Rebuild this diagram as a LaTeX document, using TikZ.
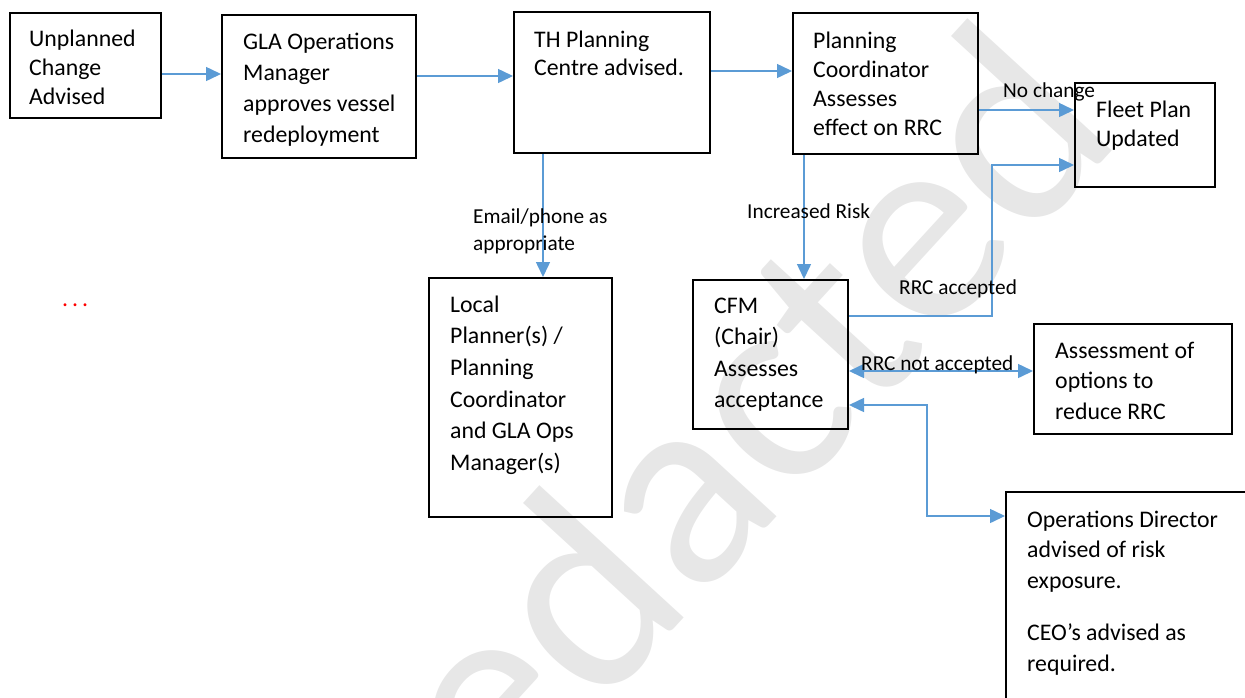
\documentclass[tikz,border=0pt]{standalone}
\usepackage{fontspec}
\setmainfont{Carlito}
\usetikzlibrary{arrows.meta}
\definecolor{flowblue}{RGB}{91,155,213}
\definecolor{stamp}{RGB}{231,231,231}
% body text: 23.8pt with a given line pitch
\newcommand{\bodyfont}[1]{\fontsize{23.8}{#1}\selectfont}
\newcommand{\lblfont}{\fontsize{21.3}{27}\selectfont}
% invisible strut fixing the top of a text block above its first baseline
\newcommand{\topstrut}[1]{\rule{0pt}{#1}}

\begin{document}
\begin{tikzpicture}[x=1pt,y=-1pt,
  box/.style={draw=black, line width=2pt, rectangle, inner sep=0pt},
  txt/.style={anchor=north west, inner sep=0pt, align=left},
  lbl/.style={anchor=base west, inner sep=0pt, font=\lblfont},
  tip/.tip={Triangle[length=15pt,width=14pt]},
  arr/.style={draw=flowblue, line width=1.5pt, -tip},
  darr/.style={draw=flowblue, line width=1.5pt, tip-tip}]

\useasboundingbox (0,0) rectangle (1245,697);
\clip (0,0) rectangle (1245,697);

% background stamp
\node[anchor=base east, rotate=47.5, inner sep=0pt, text=stamp,
      font=\fontsize{282}{282}\selectfont] (stampword) at (1126,136) {Redacted};

% process boxes
\node[box, minimum width=151pt, minimum height=105pt] (b1) at (85.5,65.5) {};
\node[box, minimum width=194pt, minimum height=143pt] (b2) at (319,86.5) {};
\node[box, minimum width=196pt, minimum height=141pt] (b3) at (612,82.5) {};
\node[box, minimum width=185pt, minimum height=141pt] (b4) at (885.5,83.5) {};
\node[box, minimum width=140pt, minimum height=104pt] (b5) at (1145,135) {};
\node[box, minimum width=183pt, minimum height=239pt] (b6) at (520.5,397.5) {};
\node[box, minimum width=155pt, minimum height=149pt] (b7) at (770.5,354.5) {};
\node[box, minimum width=198pt, minimum height=110pt] (b8) at (1133,379) {};
\node[box, minimum width=254pt, minimum height=228pt] (b9) at (1133,606) {};

% box texts
\node[txt, font=\bodyfont{29}] (t1) at (29,26) {\topstrut{20pt}Unplanned\\Change\\Advised};
\node[txt, font=\bodyfont{31}] (t2) at (243,29) {\topstrut{20pt}GLA Operations\\Manager\\approves vessel\\redeployment};
\node[txt, font=\bodyfont{28}] (t3) at (534,27) {\topstrut{20pt}TH Planning\\Centre advised.};
\node[txt, font=\bodyfont{29}] (t4) at (813,28) {\topstrut{20pt}Planning\\Coordinator\\Assesses\\effect on RRC};
\node[txt, font=\bodyfont{29}] (t5) at (1096,97) {\topstrut{20pt}Fleet Plan\\Updated};
\node[txt, font=\bodyfont{31.6}] (t6) at (450,292) {\topstrut{20pt}Local\\Planner(s) /\\Planning\\Coordinator\\and GLA Ops\\Manager(s)};
\node[txt, font=\bodyfont{31.4}] (t7) at (714,293) {\topstrut{20pt}CFM\\(Chair)\\Assesses\\acceptance};
\node[txt, font=\bodyfont{30.5}] (t8) at (1055,338) {\topstrut{20pt}Assessment of\\options to\\reduce RRC};
\node[txt, font=\bodyfont{30.5}] (t9) at (1027,507) {\topstrut{20pt}Operations Director\\advised of risk\\exposure.\\[22pt]CEO’s advised as\\required.};

% margin marker
\node[anchor=base west, inner sep=0pt, text=red, font=\bodyfont{29}] (dots) at (62,306) {.\kern4pt.\kern4pt.};

% connector levels and bends
\coordinate (y1) at (0,74);
\coordinate (y2) at (0,76);
\coordinate (y3) at (0,71);
\coordinate (y4) at (0,110);
\coordinate (y5) at (0,371);
\coordinate (x1) at (543,0);
\coordinate (x2) at (804,0);
\coordinate (ra1) at (992,316);
\coordinate (ra2) at (992,165);
\coordinate (oa1) at (927,405);
\coordinate (oa2) at (927,516);

% connectors
\draw[arr] (b1.east |- y1) -- (b2.west |- y1);
\draw[arr] (b2.east |- y2) -- (b3.west |- y2);
\draw[arr] (b3.east |- y3) -- (b4.west |- y3);
\draw[arr] (b3.south -| x1) -- (b6.north -| x1);
\draw[arr] (b4.south -| x2) -- (b7.north -| x2);
\draw[arr] (b4.east |- y4) -- (b5.west |- y4);
\draw[arr] (b7.east |- ra1) -- (ra1) -- (ra2) -- (b5.west |- ra2);
\draw[darr] (b7.east |- y5) -- (b8.west |- y5);
\draw[darr] (b7.east |- oa1) -- (oa1) -- (oa2) -- (b9.west |- oa2);

% connector labels
\node[txt, font=\fontsize{21.3}{27}\selectfont] (lemail) at (473,205) {\topstrut{18pt}Email/phone as\\appropriate};
\node[lbl] (lrisk) at (747,218) {Increased Risk};
\node[lbl] (lnochg) at (1003,97) {No change};
\node[lbl] (lacc) at (899,294) {RRC accepted};
\node[lbl] (lnacc) at (861,370) {RRC not accepted};
\end{tikzpicture}
\end{document}
